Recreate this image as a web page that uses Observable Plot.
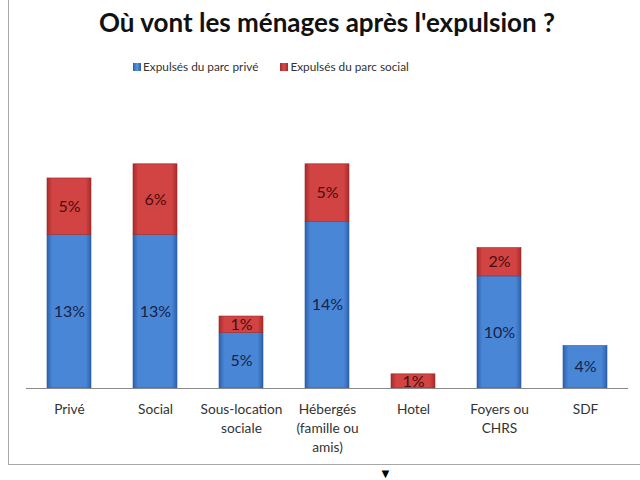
<!DOCTYPE html>
<html><head><meta charset="utf-8">
<script src="https://cdn.jsdelivr.net/npm/d3@7"></script>
<script src="https://cdn.jsdelivr.net/npm/@observablehq/plot@0.6"></script>
<style>
body{margin:0;background:#fff;font-family:Lato,"Open Sans",sans-serif;}
#frame{position:absolute;left:8px;top:0;width:632px;height:464px;border-left:1px solid #a8a8a8;border-bottom:1px solid #a8a8a8;}
#title{position:absolute;left:0;top:6px;width:654px;text-align:center;font-size:26px;font-weight:bold;color:#111;}
#legend{position:absolute;top:59px;left:133px;font-size:11.8px;color:#333;white-space:nowrap;}
#legend span.sw{display:inline-block;width:8px;height:8px;margin-right:2px;vertical-align:0px;}
#chart{position:absolute;left:0;top:80px;}
#tri{position:absolute;left:379px;top:465px;font-size:13px;color:#000;}
</style></head><body>
<div id="frame"></div>
<div id="title">Où vont les ménages après l'expulsion ?</div>
<div id="legend"><span class="sw" style="background:linear-gradient(90deg,#2c5fa8,#5a96e0,#2c5fa8)"></span>Expulsés du parc privé<span style="display:inline-block;width:22px"></span><span class="sw" style="background:linear-gradient(90deg,#a52a2a,#dc4a4a,#a52a2a)"></span>Expulsés du parc social</div>
<div id="chart"></div>
<div id="tri">▼</div>
<script>
const categories = ["Privé", "Social", "Sous-location\nsociale", "Hébergés\n(famille ou\namis)", "Hotel", "Foyers ou\nCHRS", "SDF"];
const seriesNames = ["Expulsés du parc privé", "Expulsés du parc social"];
const prive = [13.0, 13.0, 4.7, 14.1, 0, 9.5, 3.6];
const social = [4.8, 6.0, 1.4, 4.9, 1.2, 2.4, 0];

const data = [];
categories.forEach((c, i) => {
  data.push({cat: c, serie: seriesNames[0], v: prive[i], y1: 0, y2: prive[i]});
  data.push({cat: c, serie: seriesNames[1], v: social[i], y1: prive[i], y2: prive[i] + social[i]});
});
const shown = data.filter(d => d.v > 0);

const chart = Plot.plot({
  width: 640,
  height: 400,
  marginLeft: 26,
  marginRight: 12,
  marginTop: 72,
  marginBottom: 92,
  style: {fontFamily: "Lato, 'Open Sans', sans-serif", background: "transparent"},
  x: {domain: categories, paddingInner: 0.49, paddingOuter: 0.245, label: null},
  y: {domain: [0, 20], axis: null},
  color: {domain: seriesNames, range: ["url(#gBlue)", "url(#gRed)"]},
  marks: [
    Plot.rectY(shown, {x: "cat", y1: "y1", y2: "y2", fill: "serie", stroke: d => d.serie === seriesNames[0] ? "#2a5a9c" : "#9c2a2a", strokeWidth: 0.6}),
    Plot.ruleY([0], {stroke: "#8a8a8a", strokeWidth: 1}),
    Plot.text(shown, {x: "cat", y: d => (d.y1 + d.y2) / 2, text: d => Math.round(d.v) + "%", fontSize: 16,
      fill: d => d.serie === seriesNames[0] ? "#14234a" : "#4a0c0c"}),
    Plot.axisX({tickSize: 0, tickPadding: 12, fontSize: 13.7, lineHeight: 1.4, color: "#333", label: null})
  ]
});
const ns = "http://www.w3.org/2000/svg";
const defs = document.createElementNS(ns, "defs");
function grad(id, edge, mid) {
  const g = document.createElementNS(ns, "linearGradient");
  g.setAttribute("id", id);
  g.setAttribute("x1", "0"); g.setAttribute("x2", "1"); g.setAttribute("y1", "0"); g.setAttribute("y2", "0");
  [[0, edge], [0.12, mid], [0.88, mid], [1, edge]].forEach(([o, c]) => {
    const s = document.createElementNS(ns, "stop");
    s.setAttribute("offset", o); s.setAttribute("stop-color", c);
    g.appendChild(s);
  });
  defs.appendChild(g);
}
grad("gBlue", "#2d62ad", "#4a86d6");
grad("gRed", "#a82b2b", "#d24343");
chart.insertBefore(defs, chart.firstChild);
document.getElementById("chart").appendChild(chart);
</script>
</body></html>
